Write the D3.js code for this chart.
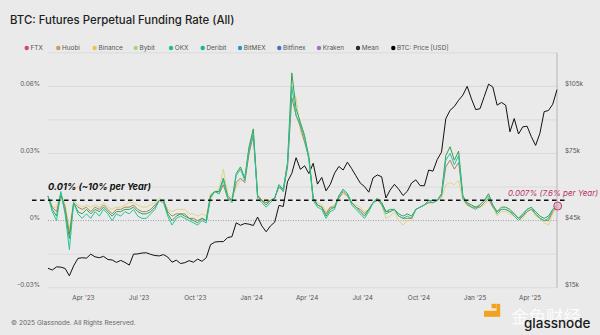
<!DOCTYPE html>
<html><head><meta charset="utf-8">
<script src="https://cdn.jsdelivr.net/npm/d3@7"></script>
<style>html,body{margin:0;padding:0;background:#eaeaea;}svg{display:block;}</style>
</head><body>
<svg id="chart" width="600" height="335"></svg>
<script>
const dates = [
"2023-02-02","2023-02-09","2023-02-16","2023-02-23","2023-03-02","2023-03-09","2023-03-16","2023-03-23","2023-03-30","2023-04-06",
"2023-04-13","2023-04-20","2023-04-27","2023-05-04","2023-05-11","2023-05-18","2023-05-25","2023-06-01","2023-06-08","2023-06-15",
"2023-06-22","2023-06-29","2023-07-06","2023-07-13","2023-07-20","2023-07-27","2023-08-03","2023-08-10","2023-08-17","2023-08-24",
"2023-08-31","2023-09-07","2023-09-14","2023-09-21","2023-09-28","2023-10-05","2023-10-12","2023-10-19","2023-10-26","2023-11-02",
"2023-11-09","2023-11-16","2023-11-23","2023-11-30","2023-12-07","2023-12-14","2023-12-21","2023-12-28","2024-01-04","2024-01-11",
"2024-01-18","2024-01-25","2024-02-01","2024-02-08","2024-02-15","2024-02-22","2024-02-29","2024-03-07","2024-03-14","2024-03-21",
"2024-03-28","2024-04-04","2024-04-11","2024-04-18","2024-04-25","2024-05-02","2024-05-09","2024-05-16","2024-05-23","2024-05-30",
"2024-06-06","2024-06-13","2024-06-20","2024-06-27","2024-07-04","2024-07-11","2024-07-18","2024-07-25","2024-08-01","2024-08-08",
"2024-08-15","2024-08-22","2024-08-29","2024-09-05","2024-09-12","2024-09-19","2024-09-26","2024-10-03","2024-10-10","2024-10-17",
"2024-10-24","2024-10-31","2024-11-07","2024-11-14","2024-11-21","2024-11-28","2024-12-05","2024-12-12","2024-12-19","2024-12-26",
"2025-01-02","2025-01-09","2025-01-16","2025-01-23","2025-01-30","2025-02-06","2025-02-13","2025-02-20","2025-02-27","2025-03-06",
"2025-03-13","2025-03-20","2025-03-27","2025-04-03","2025-04-10","2025-04-17","2025-04-24","2025-05-01","2025-05-08","2025-05-15"];

// BTC price, thousands of USD
const btcPrice = [
23.7,22.9,24.3,24.2,23.6,20.3,24.8,28.1,28.4,28.2,
30.0,28.8,28.4,29.0,27.6,27.4,26.3,27.2,26.3,25.1,
30.0,30.1,30.5,30.6,29.9,29.4,29.2,29.8,28.7,26.4,
27.3,25.8,26.2,27.1,26.4,27.8,26.8,28.4,34.2,35.4,
35.6,35.6,37.4,37.8,44.0,42.9,43.7,43.4,42.8,46.6,
42.6,40.0,42.6,44.3,51.8,51.3,62.4,66.1,73.1,67.9,
69.5,66.0,70.6,61.3,64.3,58.3,61.2,66.2,69.2,67.6,
71.1,68.2,65.0,61.8,60.2,57.7,64.1,65.4,64.6,55.1,
58.7,61.2,59.0,56.2,58.1,61.8,63.2,60.6,60.6,67.6,
67.1,72.3,75.6,90.5,94.3,96.0,98.8,101.1,105.0,99.4,
94.6,95.0,100.5,106.0,104.7,96.6,97.8,96.6,84.7,90.6,
83.7,86.9,87.2,82.5,78.6,84.0,93.7,94.2,97.0,103.5];

// Funding rates, percent
const deribitRate = [
0.011,0.004,0.000,0.013,0.003,-0.013,0.008,0.003,0.001,0.003,
0.001,0.004,0.002,0.005,0.003,0.000,0.003,0.002,0.004,0.003,
0.005,0.002,0.001,0.001,0.003,0.005,0.009,0.008,0.002,-0.002,
0.001,0.002,0.001,0.000,-0.001,-0.002,0.000,-0.001,0.010,0.013,
0.012,0.018,0.010,0.008,0.020,0.023,0.018,0.032,0.039,0.010,
0.008,0.006,0.008,0.010,0.016,0.013,0.025,0.060,0.047,0.043,
0.037,0.027,0.009,0.006,0.005,0.001,0.004,0.005,0.011,0.014,
0.012,0.007,0.005,0.003,0.001,0.004,0.008,0.010,0.007,0.003,
0.004,0.005,0.002,0.001,0.002,0.001,0.005,0.006,0.007,0.009,
0.008,0.009,0.012,0.027,0.030,0.025,0.029,0.010,0.008,0.006,
0.005,0.007,0.009,0.011,0.007,0.003,0.005,0.005,0.004,0.002,
0.000,0.002,0.005,0.006,0.003,0.001,0.000,0.001,0.005,0.007];

const okxRate = [
0.011,0.005,0.002,0.012,0.004,-0.008,0.008,0.004,0.003,0.005,
0.003,0.005,0.004,0.006,0.004,0.002,0.004,0.004,0.005,0.005,
0.006,0.004,0.003,0.003,0.004,0.006,0.009,0.009,0.003,0.000,
0.002,0.003,0.002,0.001,0.000,-0.001,0.001,0.000,0.011,0.013,
0.013,0.019,0.011,0.009,0.021,0.024,0.019,0.033,0.041,0.011,
0.009,0.007,0.009,0.010,0.016,0.014,0.026,0.066,0.050,0.044,
0.038,0.028,0.010,0.007,0.006,0.002,0.005,0.006,0.011,0.014,
0.012,0.008,0.006,0.004,0.002,0.005,0.008,0.010,0.008,0.004,
0.005,0.005,0.003,0.002,0.003,0.002,0.005,0.006,0.007,0.009,
0.009,0.009,0.012,0.029,0.033,0.027,0.031,0.011,0.008,0.007,
0.006,0.007,0.009,0.012,0.007,0.004,0.006,0.006,0.005,0.003,
0.001,0.003,0.005,0.006,0.004,0.002,0.001,0.002,0.005,0.007];

const binanceRate = [
0.010,0.006,0.006,0.012,0.007,-0.004,0.009,0.007,0.006,0.007,
0.006,0.007,0.006,0.008,0.006,0.005,0.006,0.006,0.007,0.008,
0.008,0.007,0.006,0.006,0.007,0.008,0.010,0.009,0.005,0.004,
0.005,0.005,0.005,0.003,0.003,0.002,0.003,0.002,0.012,0.013,
0.014,0.023,0.012,0.010,0.015,0.018,0.018,0.030,0.040,0.012,
0.009,0.008,0.009,0.010,0.016,0.014,0.024,0.058,0.055,0.040,
0.035,0.030,0.010,0.008,0.007,0.004,0.006,0.007,0.010,0.012,
0.011,0.008,0.007,0.006,0.004,0.005,0.008,0.009,0.007,0.001,
0.002,0.004,0.000,-0.002,0.000,0.000,0.005,0.006,0.007,0.008,
0.008,0.009,0.010,0.016,0.017,0.016,0.018,0.009,0.007,0.006,
0.005,0.006,0.007,0.009,0.006,0.002,0.004,0.004,0.003,0.002,
0.000,0.001,0.004,0.005,0.002,0.001,-0.001,-0.002,0.003,0.005];

const huobiRate = [
0.011,0.006,0.004,0.012,0.006,-0.006,0.008,0.006,0.005,0.006,
0.004,0.006,0.005,0.007,0.005,0.003,0.005,0.005,0.006,0.006,
0.007,0.005,0.004,0.004,0.005,0.007,0.009,0.009,0.004,0.002,
0.003,0.003,0.003,0.001,0.001,0.000,0.001,0.000,0.011,0.013,
0.012,0.016,0.010,0.009,0.017,0.019,0.017,0.030,0.038,0.011,
0.009,0.008,0.009,0.010,0.015,0.013,0.024,0.055,0.047,0.042,
0.035,0.028,0.010,0.007,0.006,0.003,0.006,0.006,0.010,0.013,
0.011,0.008,0.006,0.005,0.003,0.005,0.008,0.009,0.008,0.004,
0.004,0.005,0.002,0.001,0.001,0.001,0.005,0.006,0.007,0.008,
0.008,0.009,0.011,0.024,0.027,0.023,0.026,0.010,0.007,0.006,
0.006,0.006,0.008,0.010,0.006,0.004,0.005,0.005,0.004,0.003,
0.001,0.002,0.004,0.005,0.003,0.001,0.000,0.000,0.004,0.006];

const legendNames = ["FTX","Huobi","Binance","Bybit","OKX","Deribit","BitMEX","Bitfinex","Kraken","Mean","BTC: Price [USD]"];
const legendColors = ["#d4486e","#c89a5c","#e2c94e","#a6d77c","#1fbf7c","#17b3a2","#1e9cbe","#4470c8","#9c70c6","#2a2a2a","#000000"];
const xTickDates = ["2023-04-01","2023-07-01","2023-10-01","2024-01-01","2024-04-01","2024-07-01","2024-10-01","2025-01-01","2025-04-01"];
const xTickLabels = ["Apr '23","Jul '23","Oct '23","Jan '24","Apr '24","Jul '24","Oct '24","Jan '25","Apr '25"];
const leftTicks = [-0.03, 0, 0.03, 0.06];
const leftTickLabels = ["-0.03%","0%","0.03%","0.06%"];
const rightTicks = [15, 45, 75, 105];
const rightTickLabels = ["$15k","$45k","$75k","$105k"];
const gridValues = [-0.03,-0.015,0,0.015,0.03,0.045,0.06,0.075];
const refLineRate = 0.0091;
const refLabel = "0.01% (~10% per Year)";
const currentRate = 0.0065;
const currentLabel = "0.007% (7.6% per Year)";

const parse = d3.timeParse("%Y-%m-%d");
const svg = d3.select("#chart");
const F = "Inter, 'Noto Sans', sans-serif";

svg.append("rect").attr("width",600).attr("height",335).attr("fill","#eaeaea");

const x = d3.scaleTime().domain([parse("2023-02-02"), parse("2025-05-15")]).range([48, 557]);
const yL = d3.scaleLinear().domain([-0.03, 0.075]).range([287.7, 52.8]);
const yR = d3.scaleLinear().domain([15, 120]).range([287.7, 52.8]);

// title
svg.append("text").attr("x",10).attr("y",24).attr("font-family",F).attr("font-size",11.4)
  .attr("font-weight",500).attr("fill","#1e1e1e").text("BTC: Futures Perpetual Funding Rate (All)");

// legend
const legendX = [26.7,58.3,94.7,135.7,171,202.7,240,279.3,319,358,393.3];
const lg = svg.append("g");
legendNames.forEach((n,i)=>{
  lg.append("circle").attr("cx",legendX[i]).attr("cy",48).attr("r",2.2).attr("fill",legendColors[i]);
  lg.append("text").attr("x",legendX[i]+3.8).attr("y",48).attr("dy","0.35em").attr("font-family",F)
    .attr("font-size",6.4).attr("fill","#555").text(n);
});

// grid
svg.append("g").selectAll("line").data(gridValues.filter(v=>v!==0)).join("line")
  .attr("x1",48).attr("x2",557).attr("y1",d=>yL(d)).attr("y2",d=>yL(d))
  .attr("stroke","#d7d7d7").attr("stroke-width",0.8);
svg.append("line").attr("x1",48).attr("x2",557).attr("y1",yL(0)).attr("y2",yL(0))
  .attr("stroke","#8a8a8a").attr("stroke-width",0.8).attr("stroke-dasharray","1,1.5");
// right axis line
svg.append("line").attr("x1",557).attr("x2",557).attr("y1",yL(0.075)).attr("y2",yL(-0.03))
  .attr("stroke","#a9a9a9").attr("stroke-width",0.8);

// axes labels
svg.append("g").selectAll("text").data(leftTicks).join("text")
  .attr("x",40).attr("y",d=>yL(d)-3).attr("dy","0.35em").attr("text-anchor","end")
  .attr("font-family",F).attr("font-size",6.4).attr("fill","#555").text((d,i)=>leftTickLabels[i]);
svg.append("g").selectAll("text").data(rightTicks).join("text")
  .attr("x",565).attr("y",d=>yR(d)-3).attr("dy","0.35em").attr("text-anchor","start")
  .attr("font-family",F).attr("font-size",6.4).attr("fill","#555").text((d,i)=>rightTickLabels[i]);
svg.append("g").selectAll("text").data(xTickDates).join("text")
  .attr("x",d=>x(parse(d))).attr("y",298).attr("dy","0.35em").attr("text-anchor","middle")
  .attr("font-family",F).attr("font-size",6.4).attr("fill","#555").text((d,i)=>xTickLabels[i]);

// price line
const pts = dates.map(parse);
const priceLine = d3.line().x((d,i)=>x(pts[i])).y(d=>yR(d));
svg.append("path").datum(btcPrice).attr("d",priceLine).attr("fill","none")
  .attr("stroke","#111").attr("stroke-width",1).attr("stroke-linejoin","round");

// funding lines
const rateLine = d3.line().x((d,i)=>x(pts[i])).y(d=>yL(d));
const seriesList = [
  {data: binanceRate, color:"#dcd27a", w:0.9},
  {data: huobiRate, color:"#9a7a48", w:0.9},
  {data: okxRate, color:"#3c9e4c", w:1},
  {data: deribitRate, color:"#22c4a0", w:1}
];
seriesList.forEach(s=>{
  svg.append("path").datum(s.data).attr("d",rateLine).attr("fill","none")
    .attr("stroke",s.color).attr("stroke-width",s.w).attr("stroke-linejoin","round");
});

// reference dashed line
svg.append("line").attr("x1",32).attr("x2",568).attr("y1",yL(refLineRate)).attr("y2",yL(refLineRate))
  .attr("stroke","#111").attr("stroke-width",1.4).attr("stroke-dasharray","4.5,3.5");
svg.append("text").attr("x",48).attr("y",190).attr("font-family",F).attr("font-size",9.2)
  .attr("font-weight",700).attr("font-style","italic").attr("fill","#111").text(refLabel);
svg.append("text").attr("x",508).attr("y",196).attr("font-family",F).attr("font-size",8)
  .attr("font-style","italic").attr("fill","#b8336a").text(currentLabel);
svg.append("circle").attr("cx",x(pts[pts.length-1])+0.7).attr("cy",yL(currentRate)).attr("r",4)
  .attr("fill","rgba(232,160,188,0.55)").attr("stroke","#b8336a").attr("stroke-width",0.9);

// footer
svg.append("text").attr("x",11).attr("y",323).attr("dy","0.35em").attr("font-family",F)
  .attr("font-size",6.6).attr("fill","#666").text("© 2025 Glassnode. All Rights Reserved.");

// logo
const logo = svg.append("g").attr("fill","#f2a31b");
logo.append("rect").attr("x",491.5).attr("y",303.8).attr("width",5).attr("height",4.5);
logo.append("rect").attr("x",496.5).attr("y",303.8).attr("width",3.7).attr("height",13);
logo.append("rect").attr("x",484).attr("y",310.8).attr("width",13).attr("height",6);
svg.append("text").attr("x",511).attr("y",323).attr("font-family","'Noto Sans CJK SC'")
  .attr("font-size",17.5).attr("fill","#ffffff").attr("opacity",0.9).text("金色财经");
svg.append("text").attr("x",524).attr("y",328).attr("font-family",F).attr("font-size",13.5)
  .attr("font-weight",500).attr("fill","#1a1a1a").text("glassnode");
</script>
</body></html>
